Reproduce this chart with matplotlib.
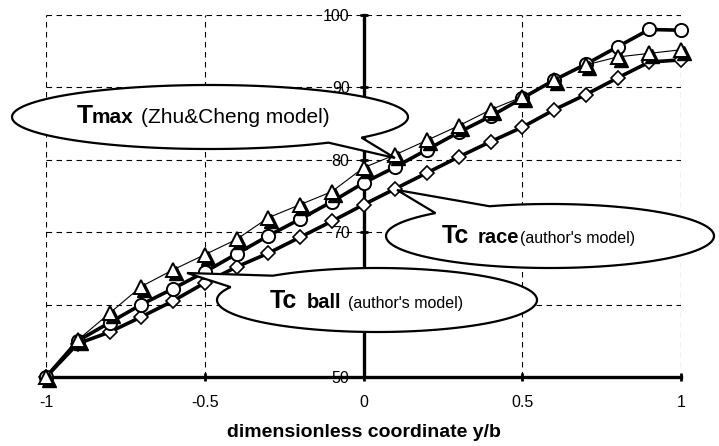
import numpy as np
import matplotlib
matplotlib.use("Agg")
import matplotlib.pyplot as plt
from matplotlib.patches import Polygon
from matplotlib.transforms import offset_copy

plt.rcParams['font.family'] = ['Liberation Sans', 'DejaVu Sans']

# ---- data ----
y_over_b = [-1.0, -0.9, -0.8, -0.7, -0.6, -0.5, -0.4, -0.3, -0.2, -0.1, 0.0,
            0.1, 0.2, 0.3, 0.4, 0.5, 0.6, 0.7, 0.8, 0.9, 1.0]
t_max = [50, 55.1, 58.8, 62.5, 64.8, 66.9, 69.0, 72.0, 73.8, 75.6, 78.9,
         80.7, 82.7, 84.7, 86.9, 88.7, 91.0, 93.1, 94.2, 94.7, 95.2]
tc_ball = [50, 55.0, 57.5, 60.0, 62.2, 64.5, 67.0, 69.5, 71.8, 74.2, 76.8,
           79.0, 81.4, 83.8, 86.0, 88.5, 91.0, 93.2, 95.6, 98.0, 97.9]
tc_race = [50, 54.6, 56.2, 58.3, 60.5, 63.0, 65.2, 67.1, 69.3, 71.5, 73.8,
           76.0, 78.2, 80.4, 82.5, 84.5, 86.9, 89.0, 91.3, 93.5, 93.8]
x_ticks = [-1, -0.5, 0, 0.5, 1]
x_tick_labels = ['-1', '-0.5', '0', '0.5', '1']
y_ticks = [50, 60, 70, 80, 90, 100]
y_tick_labels = ['50', '60', '70', '80', '90', '100']
x_label = 'dimensionless coordinate y/b'

W, H = 719, 446
fig = plt.figure(figsize=(W / 100, H / 100), dpi=100)
ax = fig.add_axes([46 / W, 1 - 377 / H, (681 - 46) / W, (377 - 15) / H])

for s in ['top', 'right']:
    ax.spines[s].set_visible(False)
ax.spines['left'].set_position(('data', 0))
ax.spines['left'].set_linewidth(2.4)
ax.spines['bottom'].set_linewidth(2.4)
ax.spines['left'].set_zorder(2)
ax.spines['bottom'].set_zorder(2)

ax.set_xlim(-1, 1)
ax.set_ylim(50, 100)
ax.set_xticks(x_ticks)
ax.set_xticklabels(x_tick_labels)
ax.set_yticks(y_ticks)
ax.set_yticklabels(y_tick_labels)
ax.tick_params(axis='y', direction='inout', length=6, width=2, pad=7,
               labelsize=11.5)
ax.tick_params(axis='x', direction='inout', length=6, width=2, pad=10,
               labelsize=11.5)
ax.grid(True, color='black', lw=0.8, ls=(0, (5, 4)), zorder=0)
ax.set_axisbelow(True)
ax.set_xlabel(x_label, fontsize=14, fontweight='bold', labelpad=10)

# series
ax.plot(y_over_b, tc_race, color='black', lw=2.6, marker='D', ms=7,
        mfc='white', mec='black', mew=1.2, clip_on=False, zorder=3)
ax.plot(y_over_b, tc_ball, color='black', lw=2.6, marker='o', ms=9.5,
        mfc='white', mec='black', mew=1.4, clip_on=False, zorder=4)
shadow = offset_copy(ax.transData, fig=fig, x=3, y=-3, units='dots')
ax.plot(y_over_b, t_max, color='black', lw=0.8, zorder=5, clip_on=False)
ax.plot(y_over_b, t_max, ls='none', marker='^', ms=10, mfc='black',
        mec='black', transform=shadow, clip_on=False, zorder=5)
ax.plot(y_over_b, t_max, ls='none', marker='^', ms=10, mfc='white',
        mec='black', mew=1.4, clip_on=False, zorder=6)


def px(x, y):
    return (x / W, 1 - y / H)


def callout(cx, cy, a, b, tip, base1, base2):
    th1 = np.arctan2((base1[1] - cy) / b, (base1[0] - cx) / a)
    th2 = np.arctan2((base2[1] - cy) / b, (base2[0] - cx) / a)
    d = (th2 - th1) % (2 * np.pi)
    if d < np.pi:
        start, end = th2, th1
    else:
        start, end = th1, th2
    while end < start:
        end += 2 * np.pi
    t = np.linspace(start, end, 200)
    pts = [px(cx + a * np.cos(tt), cy + b * np.sin(tt)) for tt in t]
    pts.append(px(*tip))
    poly = Polygon(pts, closed=True, transform=fig.transFigure,
                   facecolor='white', edgecolor='black', lw=1.6, zorder=10)
    fig.add_artist(poly)


renderer = fig.canvas.get_renderer()


def chain(x, y, parts):
    """parts: list of (text, size, weight, gap_before_px)"""
    cur = x
    for s, size, weight, gap in parts:
        cur += gap
        t = fig.text(cur / W, 1 - y / H, s, fontsize=size, fontweight=weight,
                     ha='left', va='baseline', zorder=11)
        bb = t.get_window_extent(renderer=renderer)
        cur = bb.x1


# Tmax callout
callout(210, 117, 198, 32, (395, 158), (357, 137), (330, 143))
chain(77, 123, [('T', 19, 'bold', 0), ('max', 15, 'bold', -1),
                ('(Zhu&Cheng model)', 15, 'normal', 7)])

# Tc race callout
callout(550, 236, 164, 32, (397, 190), (435, 213), (487, 205))
chain(442, 243, [('Tc', 18, 'bold', 0), ('race', 14.5, 'bold', 8),
                 ("(author's model)", 11.5, 'normal', 1)])

# Tc ball callout
callout(377, 300, 160, 32, (187, 273), (230, 287), (270, 275))
chain(270, 308, [('Tc', 18, 'bold', 0), ('ball', 14.5, 'bold', 9),
                 ("(author's model)", 11.5, 'normal', 7)])

fig.savefig('out.png', dpi=100)
